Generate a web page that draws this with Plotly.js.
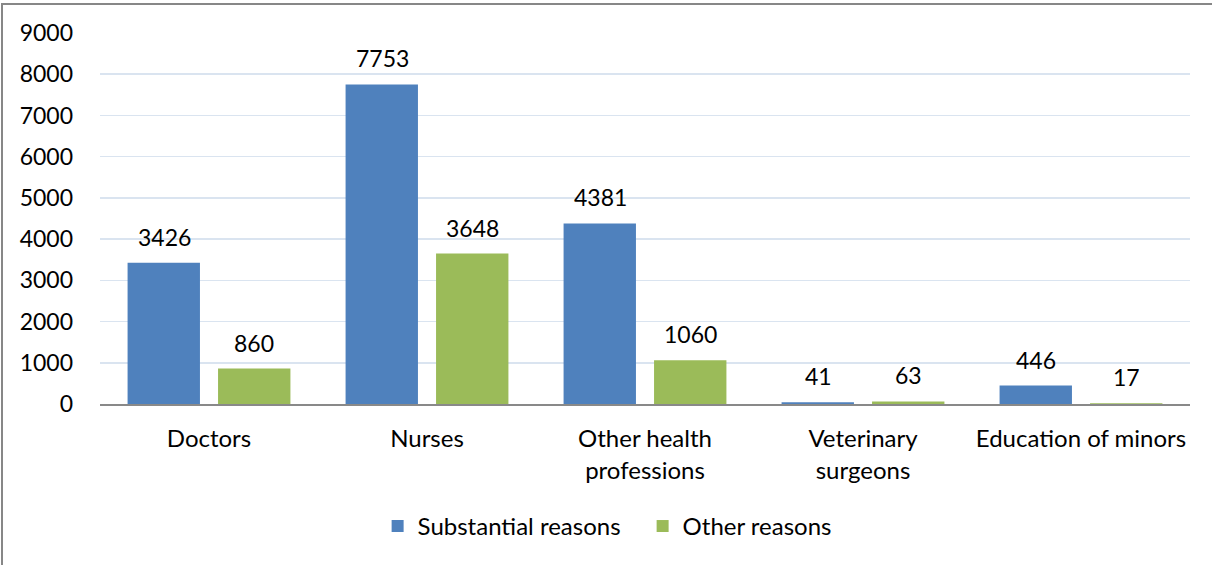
<!DOCTYPE html>
<html>
<head>
<meta charset="utf-8">
<script src="https://cdn.plot.ly/plotly-3.0.1.min.js"></script>
<style>
  html, body { margin: 0; padding: 0; background: #fff; }
  #wrap { position: relative; width: 1212px; height: 565px; overflow: hidden; }
  #chart { position: absolute; left: 0; top: 0; width: 1212px; height: 565px; }
  #frame { position: absolute; left: 1px; top: 3px; width: 1300px; height: 700px;
           border-left: 2px solid #878787; border-top: 2px solid #878787; pointer-events: none; }
</style>
</head>
<body>
<div id="wrap">
  <div id="chart"></div>
  <div id="frame"></div>
</div>
<script>
const categories = ["Doctors", "Nurses", "Other health<br>professions", "Veterinary<br>surgeons", "Education of minors"];
const substantialReasons = [3426, 7753, 4381, 41, 446];
const otherReasons = [860, 3648, 1060, 63, 17];
const seriesNames = ["Substantial reasons", "Other reasons"];
const yTicks = [0, 1000, 2000, 3000, 4000, 5000, 6000, 7000, 8000, 9000];

const FONT = "Lato, 'Open Sans', sans-serif";

const traces = [
  { type: "bar", name: seriesNames[0], x: categories, y: substantialReasons,
    marker: { color: "#4f81bd" }, hoverinfo: "skip" },
  { type: "bar", name: seriesNames[1], x: categories, y: otherReasons,
    marker: { color: "#9bbb59" }, hoverinfo: "skip" }
];

const annotations = [];
[substantialReasons, otherReasons].forEach((vals, si) => {
  vals.forEach((v, i) => {
    annotations.push({
      x: categories[i], y: v, xref: "x", yref: "y",
      text: String(v), showarrow: false,
      xanchor: "center", yanchor: "bottom",
      xshift: si === 0 ? -45 : 45, yshift: 10,
      font: { family: FONT, size: 23, color: "#000" }
    });
  });
});

const layout = {
  width: 1212, height: 565,
  margin: { l: 100, r: 22, t: 33, b: 161, pad: 0 },
  paper_bgcolor: "rgba(0,0,0,0)", plot_bgcolor: "#fff",
  barmode: "group", bargap: 0.17, bargroupgap: 0.2,
  font: { family: FONT, size: 23, color: "#000" },
  showlegend: true,
  legend: { orientation: "h", x: 0.2547, xanchor: "left", y: -0.33, yanchor: "middle",
            font: { family: FONT, size: 24, color: "#000" }, itemwidth: 30, traceorder: "normal",
            entrywidthmode: "pixels", entrywidth: 220 },
  xaxis: { type: "category", showgrid: false, showline: true, linecolor: "#898989", linewidth: 1.5,
           ticks: "", ticklabelstandoff: 13, tickangle: 0, fixedrange: true,
           tickfont: { family: FONT, size: 24, color: "#000" } },
  yaxis: { range: [0, 9000], tickvals: yTicks, ticktext: yTicks.map(String),
           showgrid: true, gridcolor: "#dae4f0", gridwidth: 1.5, zeroline: false, showline: false,
           ticks: "", ticklabelstandoff: 26, fixedrange: true,
           tickfont: { family: FONT, size: 23, color: "#000" } },
  annotations: annotations
};

Plotly.newPlot("chart", traces, layout, { displayModeBar: false, staticPlot: true });
</script>
</body>
</html>
